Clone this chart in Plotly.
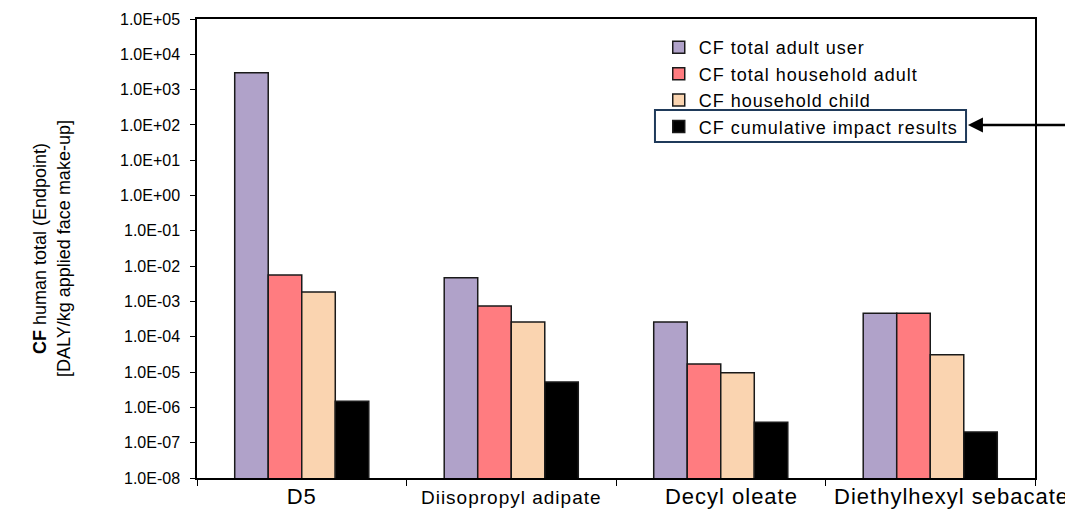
import plotly.graph_objects as go

categories = ["D5", "Diisopropyl adipate", "Decyl oleate", "Diethylhexyl sebacate"]
cat_labels = ["<span style='font-size:22px;letter-spacing:1px'>D5</span>",
              "<span style='font-size:19px;letter-spacing:1px'>Diisopropyl adipate</span>",
              "<span style='font-size:22px;letter-spacing:1px'>&nbsp;&nbsp;&nbsp;Decyl oleate</span>",
              "<span style='font-size:22px;letter-spacing:1px'>&nbsp;&nbsp;&nbsp;&nbsp;&nbsp;&nbsp;Diethylhexyl sebacate</span>"]
adult_user = [3.0e3, 4.7e-3, 2.6e-4, 4.6e-4]
household_adult = [5.6e-3, 7.4e-4, 1.7e-5, 4.6e-4]
household_child = [1.85e-3, 2.6e-4, 9.6e-6, 3.1e-5]
cumulative = [1.5e-6, 5.2e-6, 3.8e-7, 2.0e-7]
series_names = ["CF total adult user", "CF total household adult",
                "CF household child", "CF cumulative impact results"]
colors = ["#B0A2C9", "#FF7C80", "#FAD4B0", "#000000"]
tick_exps = list(range(-8, 6))
tick_text = ["1.0E%s%02d" % ("+" if e >= 0 else "-", abs(e)) for e in tick_exps]

fig = go.Figure()
for name, vals, col in zip(series_names, [adult_user, household_adult, household_child, cumulative], colors):
    fig.add_trace(go.Bar(x=categories, y=vals, name="<span style='letter-spacing:1px'>%s</span>" % name,
                         marker=dict(color=col, line=dict(color="#1a1a1a", width=1.5))))

fig.update_layout(
    width=1073, height=513,
    margin=dict(l=189, r=46, t=11, b=43),
    plot_bgcolor="white", paper_bgcolor="white",
    barmode="group", bargap=0.36, bargroupgap=0,
    font=dict(family="Liberation Sans, Arial", color="#000"),
    legend=dict(x=0.551, y=0.978, xanchor="left", yanchor="top",
                font=dict(size=18), bgcolor="rgba(0,0,0,0)",
                tracegroupgap=0, itemwidth=30),
    showlegend=True,
)
fig.update_xaxes(tickvals=categories, ticktext=cat_labels, showline=True, linecolor="black",
                 linewidth=1.5, mirror=True, ticks="outside", tickson="boundaries",
                 ticklen=6, tickcolor="black", showgrid=False, automargin=False, tickangle=0,
                 ticklabelstandoff=10)
fig.update_yaxes(type="log", range=[-8, 5], tickvals=[10.0 ** e for e in tick_exps],
                 ticktext=tick_text, showline=True, linecolor="black", linewidth=1.5,
                 mirror=True, ticks="outside", ticklen=5, tickcolor="black", showgrid=False,
                 tickfont=dict(size=16), automargin=False, ticklabelstandoff=7,
                 title=dict(text="<b>CF</b> human total (Endpoint)<br>[DALY/kg applied face make-up]",
                            font=dict(size=18), standoff=45))

fig.add_shape(type="rect", xref="paper", yref="paper", x0=0.5465, x1=0.9177, y0=0.732, y1=0.802,
              line=dict(color="#1F3A5A", width=2))
fig.add_annotation(xref="paper", yref="paper", x=0.92, y=0.769, ax=105, ay=0, text="",
                   showarrow=True, arrowhead=2, arrowsize=1.2, arrowwidth=2.5, arrowcolor="black")

fig.write_html("out.html")
